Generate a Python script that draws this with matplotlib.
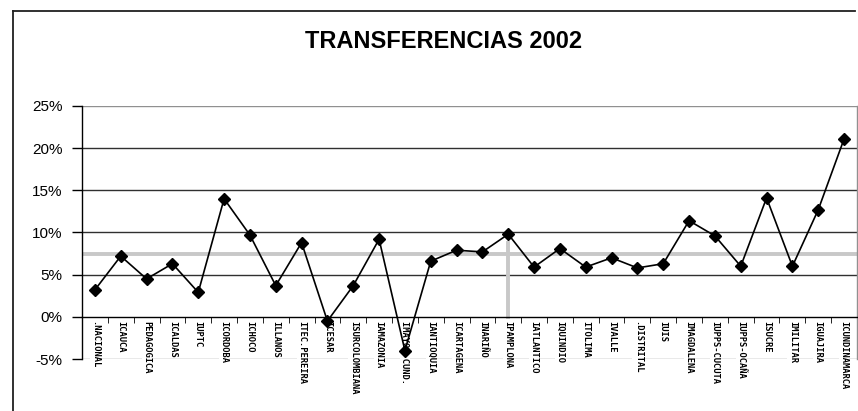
import matplotlib.pyplot as plt
from matplotlib.lines import Line2D
from matplotlib.ticker import FixedLocator, PercentFormatter

plt.rcParams["axes.unicode_minus"] = False

# universities and their 2002 transfer share
universidades = [
    ".NACIONAL", "ICAUCA", "PEDAGOGICA", "ICALDAS", "IUPTC", "ICORDOBA",
    "ICHOCO", "ILLANOS", "ITEC.PEREIRA", "ICESAR", "ISURCOLOMBIANA",
    "IAMAZONIA", "IMAYOR CUND.", "IANTIOQUIA", "ICARTAGENA", "INARIÑO",
    "IPAMPLONA", "IATLANTICO", "IQUINDIO", "ITOLIMA", "IVALLE",
    ".DISTRITAL", "IUIS", "IMAGDALENA", "IUPPS-CUCUTA", "IUPPS-OCAÑA",
    "ISUCRE", "IMILITAR", "IGUAJIRA", "ICUNDINAMARCA",
]
transferencias = [
    0.032, 0.072, 0.045, 0.063, 0.029, 0.140,
    0.097, 0.037, 0.088, -0.005, 0.037,
    0.092, -0.040, 0.066, 0.079, 0.077,
    0.098, 0.059, 0.081, 0.059, 0.070,
    0.058, 0.063, 0.114, 0.096, 0.060,
    0.141, 0.060, 0.127, 0.211,
]
promedio = 0.074          # grey reference line
marca_idx = 16            # PAMPLONA
marca_alto = 0.088

y_ticks = [-0.05, 0, 0.05, 0.10, 0.15, 0.20, 0.25]

fig = plt.figure(figsize=(8.58, 4.11), dpi=100)
# outer chart border (only top and left fall inside the picture)
fig.lines.append(Line2D([13 / 858, 13 / 858], [0, 1 - 11 / 411],
                        transform=fig.transFigure, color="#202020", lw=1.3))
fig.lines.append(Line2D([13 / 858, 855 / 858], [1 - 11 / 411, 1 - 11 / 411],
                        transform=fig.transFigure, color="#202020", lw=1.3))

ax = fig.add_axes([82 / 858, 52 / 411, 775 / 858, 253 / 411])
x = list(range(len(universidades)))

ax.axhline(promedio, color="#c8c8c8", linewidth=2.8, zorder=1)
ax.plot([marca_idx, marca_idx], [0, marca_alto], color="#c8c8c8",
        linewidth=2.8, zorder=1)

for t in y_ticks:
    col = "#909090" if t in (y_ticks[0], y_ticks[-1]) else "#303030"
    if t != 0:
        ax.axhline(t, color=col, linewidth=1.0, zorder=0.5)

ax.plot(x, transferencias, color="black", linewidth=1.2, marker="D",
        markersize=6, zorder=2)

ax.set_xlim(-0.5, len(universidades) - 0.5)
ax.set_ylim(y_ticks[0], y_ticks[-1])
ax.set_yticks(y_ticks)
ax.yaxis.set_major_formatter(PercentFormatter(1.0, decimals=0))

ax.spines["top"].set_visible(False)
ax.spines["right"].set_color("#909090")
ax.spines["right"].set_linewidth(1.0)
ax.spines["bottom"].set_position(("data", 0))
ax.spines["left"].set_linewidth(1.0)
ax.spines["bottom"].set_linewidth(1.0)

ax.set_xticks(x)
ax.set_xticklabels(universidades, rotation=270, fontsize=6.3,
                   fontweight="bold", family="DejaVu Sans Mono")
ax.xaxis.set_minor_locator(FixedLocator([i - 0.5 for i in range(len(x) + 1)]))
ax.tick_params(axis="x", which="major", length=0, pad=3)
ax.tick_params(axis="x", which="minor", length=4, direction="out")
for lab in ax.get_xticklabels():
    lab.set_verticalalignment("top")
    lab.set_bbox(dict(facecolor="white", edgecolor="none", pad=0.3))
ax.tick_params(axis="y", length=7, width=1.0, pad=7)
for lab in ax.get_yticklabels():
    lab.set_family("Liberation Sans")
    lab.set_fontsize(11)

fig.text(444 / 858, 1 - 42 / 411, "TRANSFERENCIAS 2002", ha="center",
         va="center", fontsize=17, fontweight="bold",
         family="Liberation Sans")

fig.savefig("out.png", dpi=100)
